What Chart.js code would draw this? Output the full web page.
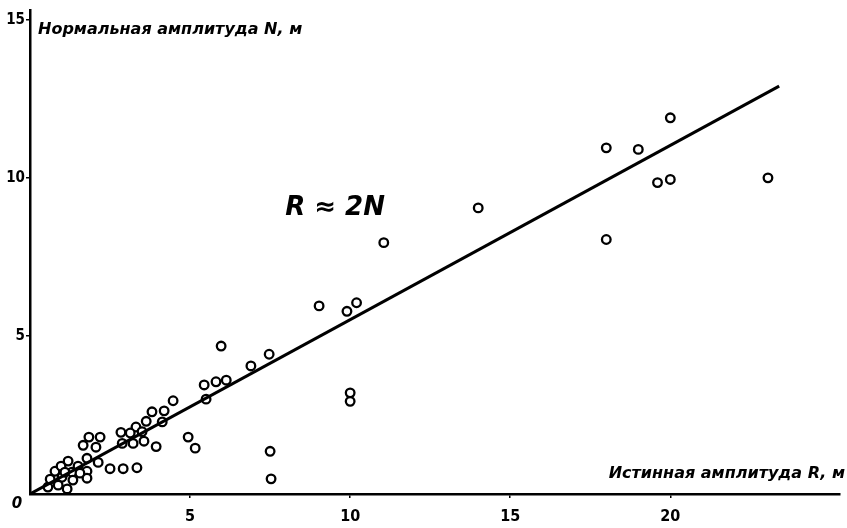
<!DOCTYPE html>
<html>
<head>
<meta charset="utf-8">
<script src="https://cdn.jsdelivr.net/npm/chart.js@4"></script>
<style>
  html, body { margin: 0; padding: 0; background: #fff; }
  #wrap { width: 847px; height: 528px; }
</style>
</head>
<body>
<div id="wrap"><canvas id="amplitudeChart"></canvas></div>
<script>
// Истинная амплитуда R, м (ось X) и нормальная амплитуда N, м (ось Y)
const trueAmplitudeR = [
  18.0, 20.0, 19.0, 19.6, 20.0, 23.05, 18.0, 14.0, 11.05,
  9.03, 9.9, 10.2, 10.0, 10.0,
  5.97, 7.47, 6.9, 5.44, 5.81, 6.13, 5.5, 4.94, 5.16, 7.5, 7.53,
  4.47, 3.81, 4.19, 3.63, 4.13, 3.31, 2.84, 3.13, 3.5, 3.56, 3.22, 2.88, 3.94,
  2.5, 2.91, 3.34, 2.19, 1.84, 1.66, 2.06, 2.13,
  0.56, 0.63, 0.78, 0.97, 1.19, 1.0, 1.16, 0.88, 1.31, 1.5, 1.78, 1.78, 1.78,
  1.56, 1.34, 1.09
];
const normalAmplitudeN = [
  10.95, 11.9, 10.9, 9.85, 9.95, 10.0, 8.05, 9.05, 7.95,
  5.95, 5.78, 6.05, 3.2, 2.93,
  4.68, 4.42, 4.05, 3.45, 3.55, 3.6, 3.0, 1.8, 1.45, 1.35, 0.48,
  2.95, 2.6, 2.63, 2.3, 2.28, 2.12, 1.95, 1.93, 1.97, 1.67, 1.6, 1.6, 1.5,
  0.8, 0.8, 0.83, 1.8, 1.8, 1.54, 1.48, 1.0,
  0.22, 0.47, 0.72, 0.88, 1.04, 0.53, 0.16, 0.28, 0.69, 0.88, 1.13, 0.72, 0.5,
  0.66, 0.44, 0.69
];
// Линия R ≈ 2N
const fitLineR = [0, 23.4];
const fitLineN = [0, 12.9];
// Подписи делений
const xTickValues = [5, 10, 15, 20];
const yTickValues = [5, 10, 15];

const points = trueAmplitudeR.map((r, i) => ({ x: r, y: normalAmplitudeN[i] }));
const fitLine = fitLineR.map((r, i) => ({ x: r, y: fitLineN[i] }));

const tickFont = { family: "'DejaVu Sans Condensed', 'DejaVu Sans'", weight: 'bold', size: 16 };
const italicFont = "'DejaVu Sans', sans-serif";

// подписи осей и формула
const labelsPlugin = {
  id: 'labels',
  afterDraw(chart) {
    const ctx = chart.ctx;
    const x = chart.scales.x, y = chart.scales.y;
    ctx.save();
    ctx.fillStyle = '#000';
    ctx.textBaseline = 'middle';

    ctx.font = 'italic bold 16px ' + italicFont;
    ctx.textAlign = 'left';
    ctx.fillText('Нормальная амплитуда N, м', chart.chartArea.left + 8, 30);

    ctx.textAlign = 'right';
    ctx.fillText('Истинная амплитуда R, м', chart.width - 2, chart.chartArea.bottom - 20);

    ctx.font = 'italic bold 26px ' + italicFont;
    ctx.textAlign = 'left';
    ctx.fillText('R ≈ 2N', x.getPixelForValue(7.97), y.getPixelForValue(9.05));

    ctx.font = 'italic bold 15px ' + italicFont;
    ctx.textAlign = 'center';
    ctx.fillText('0', chart.chartArea.left - 13, chart.chartArea.bottom + 10);
    ctx.restore();
  }
};

const config = {
  type: 'scatter',
  data: {
    datasets: [
      {
        type: 'line',
        data: fitLine,
        borderColor: '#000',
        borderWidth: 3,
        pointRadius: 0,
        fill: false
      },
      {
        data: points,
        pointStyle: 'circle',
        pointRadius: 4.3,
        borderColor: '#000',
        backgroundColor: '#fff',
        borderWidth: 2.3
      }
    ]
  },
  options: {
    responsive: true,
    maintainAspectRatio: false,
    animation: false,
    layout: { padding: { top: 5, right: 7, left: 0, bottom: 0 } },
    plugins: {
      legend: { display: false },
      tooltip: { enabled: false }
    },
    scales: {
      x: {
        type: 'linear',
        min: 0,
        max: 25.3,
        afterBuildTicks: (s) => { s.ticks = xTickValues.map(v => ({ value: v })); },
        afterFit: (s) => { s.height = 34; },
        border: { display: true, color: '#000', width: 2.5 },
        grid: { drawOnChartArea: false, drawTicks: true, tickLength: 4, color: '#000', lineWidth: 1.5 },
        ticks: { color: '#000', font: tickFont, padding: 9, maxRotation: 0 }
      },
      y: {
        type: 'linear',
        min: 0,
        max: 15.31,
        afterBuildTicks: (s) => { s.ticks = yTickValues.map(v => ({ value: v })); },
        afterFit: (s) => { s.width = 30; },
        border: { display: true, color: '#000', width: 2.5 },
        grid: { drawOnChartArea: false, drawTicks: true, tickLength: 4, color: '#000', lineWidth: 1.5 },
        ticks: { color: '#000', font: { ...tickFont, size: 15 }, padding: 1 }
      }
    }
  },
  plugins: [labelsPlugin]
};

const amplitudeChart = new Chart(document.getElementById('amplitudeChart'), config);
</script>
</body>
</html>
